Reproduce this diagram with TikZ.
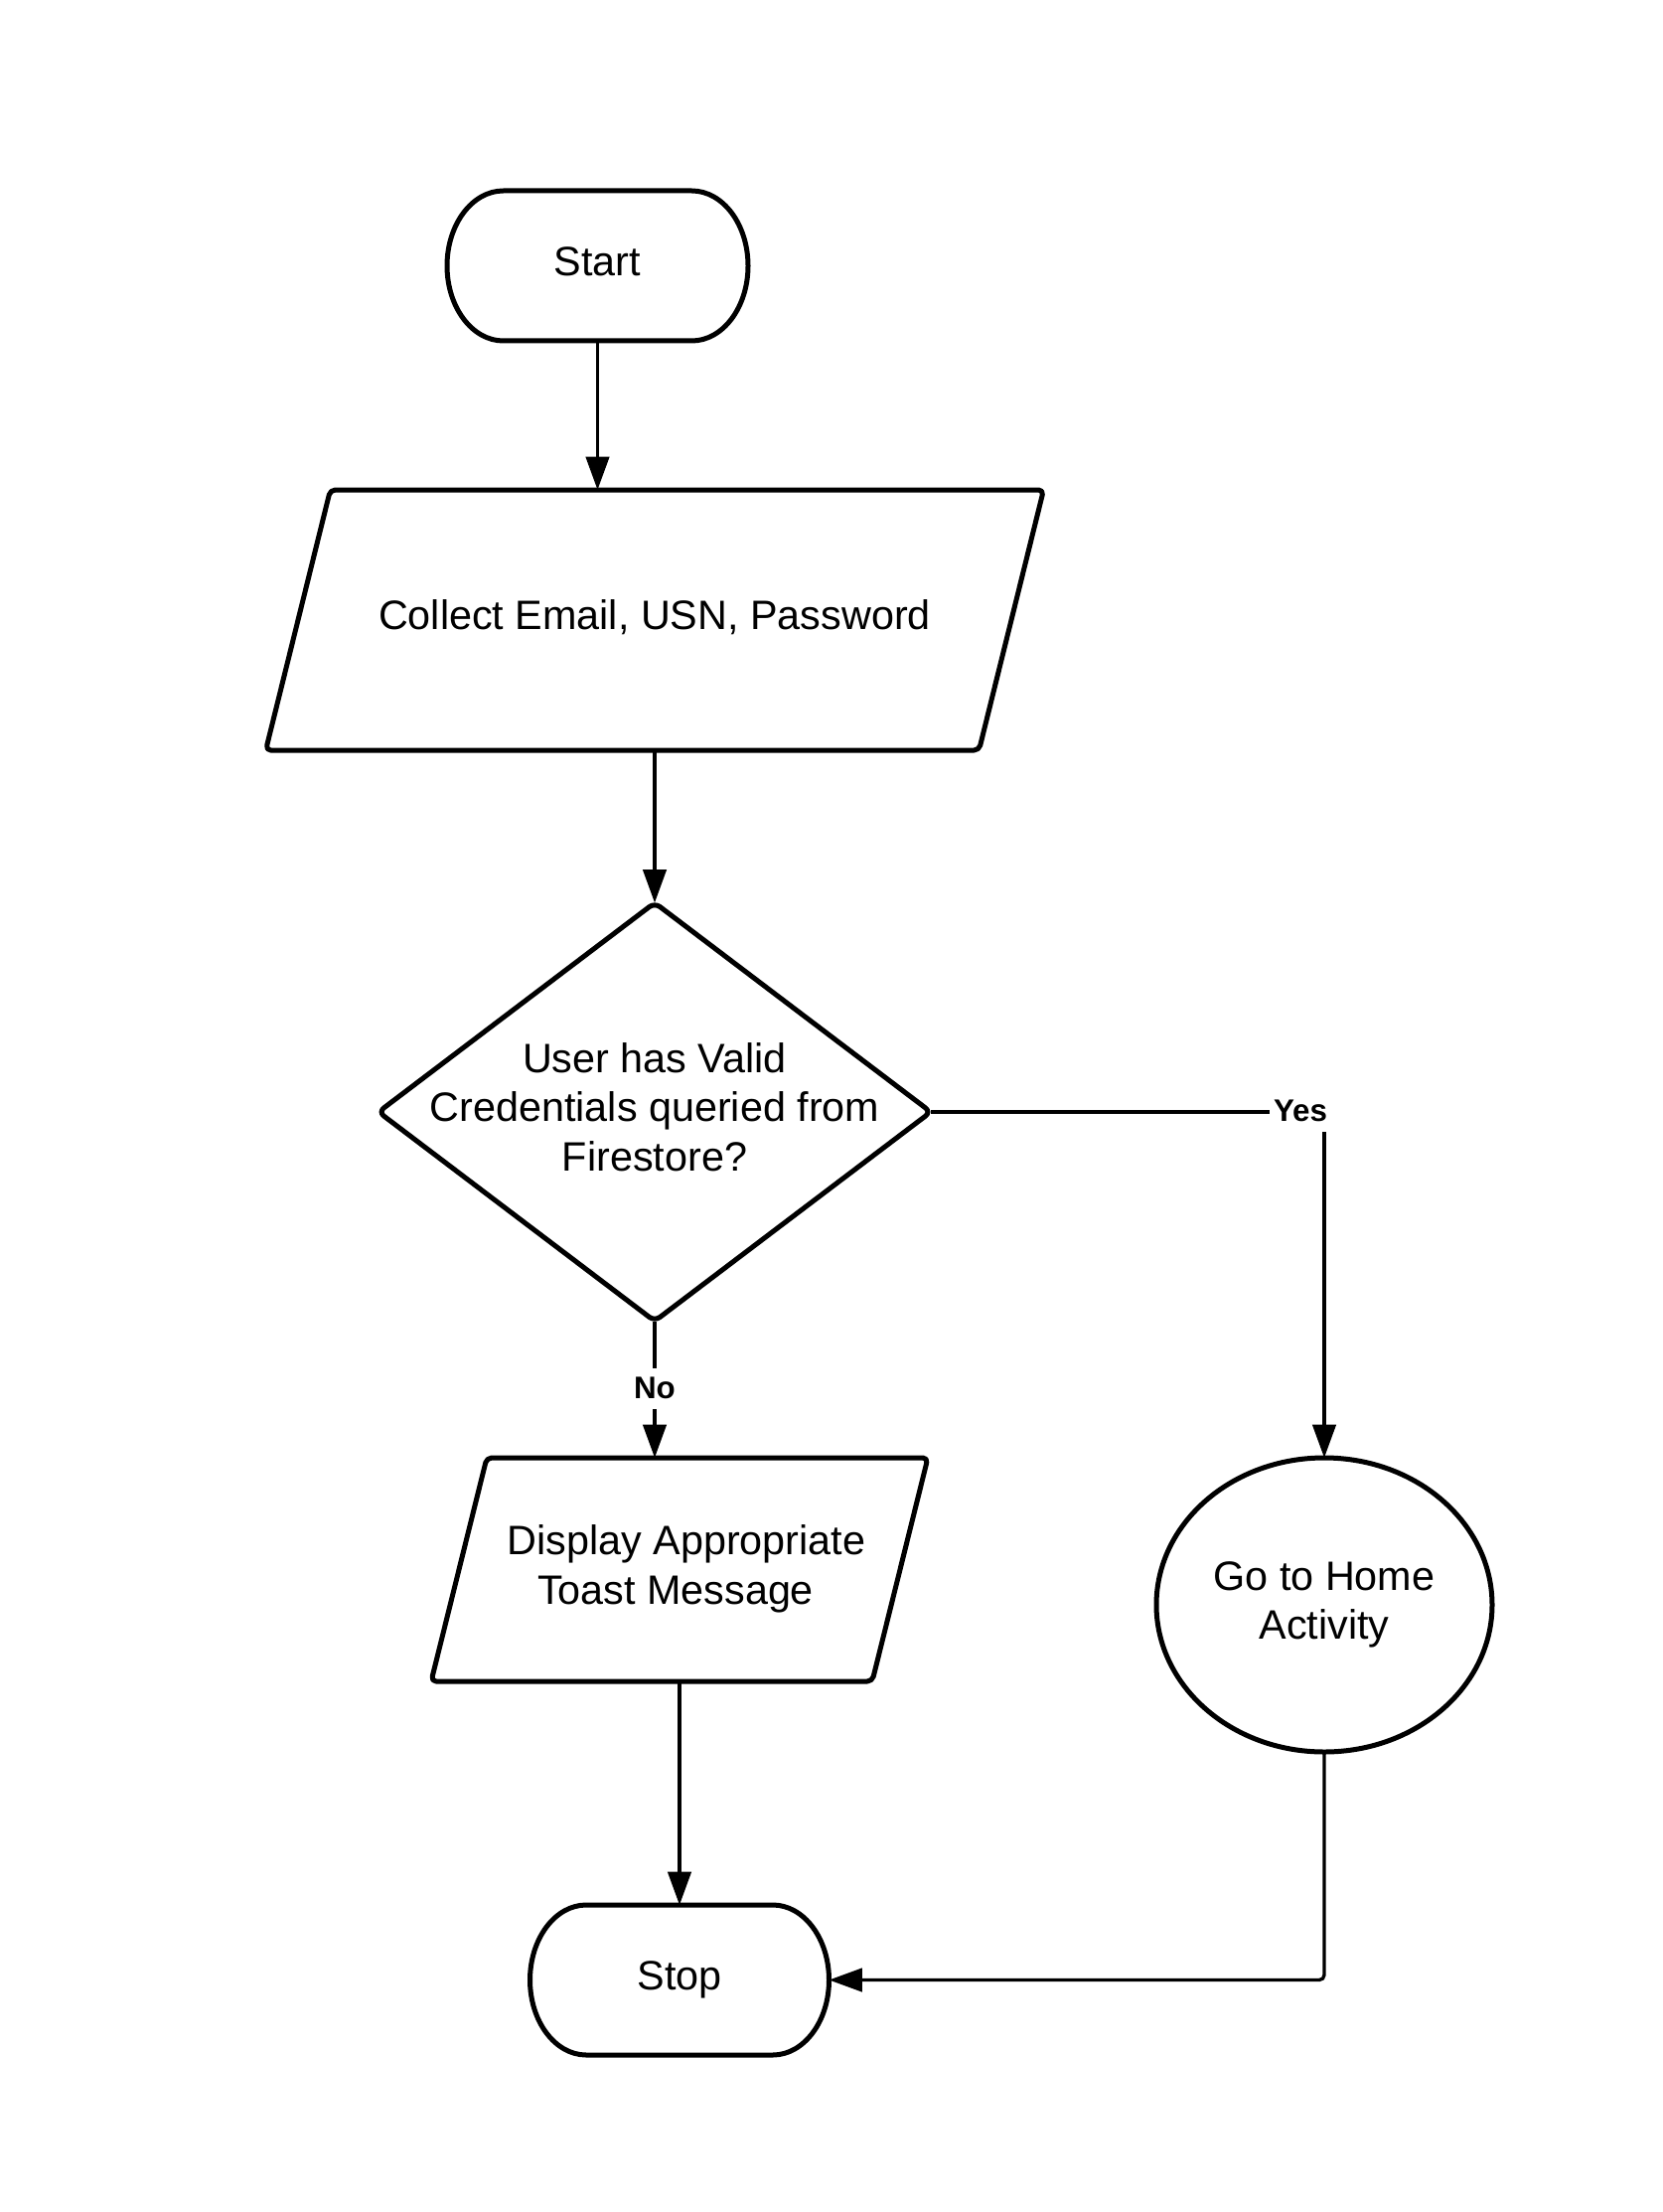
\documentclass[tikz,border=0pt]{standalone}
\usepackage{fontspec}
\setmainfont{Liberation Sans}
\usetikzlibrary{arrows.meta,shapes.geometric}
\newcommand\boxtxt[1]{\begin{tabular}{@{}c@{}}#1\end{tabular}}
\newcommand\termpath[1]{%
  \draw[shp] ([xshift=17pt]#1.north west) -- ([xshift=-17pt]#1.north east)
    arc[start angle=90, end angle=-90, x radius=17pt, y radius=22.65pt]
    -- ([xshift=17pt]#1.south west)
    arc[start angle=270, end angle=90, x radius=17pt, y radius=22.65pt] -- cycle;}
\tikzset{
  shp/.style={draw=black, line width=1.5pt, line join=round},
  txtnode/.style={inner sep=0pt, outer sep=0pt, font=\fontsize{12.4pt}{14.85pt}\selectfont},
  arr/.style={draw=black, line width=1pt, -{Triangle[width=7pt,length=10pt]}},
  lbl/.style={fill=white, inner sep=0pt, font=\fontsize{9.4pt}{11pt}\selectfont\bfseries}
}
\begin{document}
\begin{tikzpicture}[x=0.3pt, y=-0.3pt]
\useasboundingbox[fill=white] (0,0) rectangle (1673,2226);

% nodes
\node[txtnode, minimum width=90.9pt, minimum height=45.3pt] (start) at (601.5,267.5) {\boxtxt{Start}};
\termpath{start}

\node[txtnode, minimum width=234.9pt, minimum height=78.6pt] (p1) at (659,624) {\boxtxt{Collect Email, USN, Password}};
\draw[shp, rounded corners=1.5pt] ([xshift=19.5pt]p1.north west) -- (p1.north east)
  -- ([xshift=-19.5pt]p1.south east) -- (p1.south west) -- cycle;

\node[txtnode, minimum width=166.8pt, minimum height=126.3pt] (d) at (659,1119)
  {\boxtxt{User has Valid\\Credentials queried from\\Firestore?}};
\draw[shp, rounded corners=2pt] (d.north) -- (d.east) -- (d.south) -- (d.west) -- cycle;

\node[txtnode, minimum width=150pt, minimum height=67.5pt] (p2) at (684,1579.5)
  {\boxtxt{\hspace*{4.2pt}Display Appropriate\\Toast Message\hspace*{2.4pt}}};
\draw[shp, rounded corners=1.5pt] ([xshift=16.8pt]p2.north west) -- (p2.north east)
  -- ([xshift=-16.8pt]p2.south east) -- (p2.south west) -- cycle;

\node[txtnode, shp, ellipse, minimum width=101.4pt, minimum height=88.8pt] (go) at (1333,1615)
  {\boxtxt{Go to Home\\Activity}};

\node[txtnode, minimum width=90.3pt, minimum height=45.3pt] (stop) at (684,1992.5) {\boxtxt{Stop}};
\termpath{stop}

% connectors
\draw[arr] (start.south) -- (start.south |- p1.north);
\draw[arr] (p1.south) -- (d.north);
\draw[arr] (d.south) -- (d.south |- p2.north);
\draw[arr] (p2.south) -- (stop.north);
\draw[arr] (d.east) -- (d.east -| go.north) -- (go.north);
\draw[arr, rounded corners=1.5pt] (go.south) -- (go.south |- stop.east) -- (stop.east);

% labels
\node[lbl, minimum width=18.6pt, minimum height=12.6pt] (yes) at (1309,1118) {Yes};
\node[lbl, minimum width=14pt, minimum height=12.3pt] (no) at (659,1397) {No};
\end{tikzpicture}
\end{document}
